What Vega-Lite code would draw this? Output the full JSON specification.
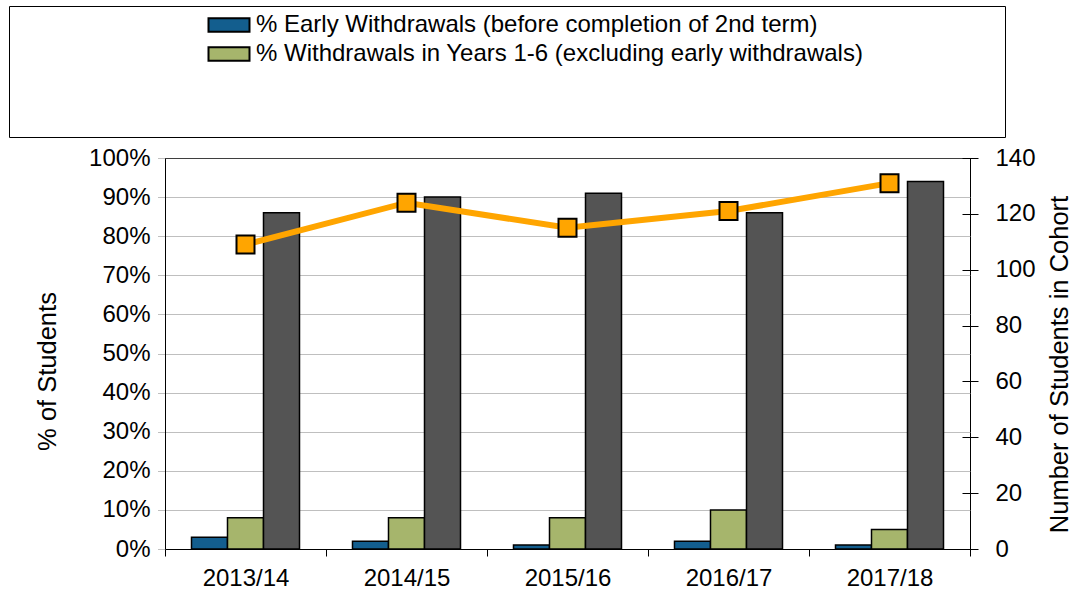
{
  "$schema": "https://vega.github.io/schema/vega-lite/v6.json",
  "padding": {"left": 8, "top": 5, "right": 0, "bottom": 0},
  "autosize": {"type": "pad"},
  "spacing": 7,
  "config": {
    "font": "Liberation Sans",
    "view": {"stroke": "black", "strokeWidth": 1},
    "axis": {"labelFontSize": 24, "titleFontSize": 25.5, "titleFontWeight": "normal", "labelColor": "black", "titleColor": "black"}
  },
  "datasets": {
    "bars": [
      {"year": "2013/14", "series": "% Early Withdrawals (before completion of 2nd term)", "value": 0.03},
      {"year": "2013/14", "series": "% Withdrawals in Years 1-6 (excluding early withdrawals)", "value": 0.08},
      {"year": "2013/14", "series": "% Graduated", "value": 0.86},
      {"year": "2014/15", "series": "% Early Withdrawals (before completion of 2nd term)", "value": 0.02},
      {"year": "2014/15", "series": "% Withdrawals in Years 1-6 (excluding early withdrawals)", "value": 0.08},
      {"year": "2014/15", "series": "% Graduated", "value": 0.90},
      {"year": "2015/16", "series": "% Early Withdrawals (before completion of 2nd term)", "value": 0.01},
      {"year": "2015/16", "series": "% Withdrawals in Years 1-6 (excluding early withdrawals)", "value": 0.08},
      {"year": "2015/16", "series": "% Graduated", "value": 0.91},
      {"year": "2016/17", "series": "% Early Withdrawals (before completion of 2nd term)", "value": 0.02},
      {"year": "2016/17", "series": "% Withdrawals in Years 1-6 (excluding early withdrawals)", "value": 0.10},
      {"year": "2016/17", "series": "% Graduated", "value": 0.86},
      {"year": "2017/18", "series": "% Early Withdrawals (before completion of 2nd term)", "value": 0.01},
      {"year": "2017/18", "series": "% Withdrawals in Years 1-6 (excluding early withdrawals)", "value": 0.05},
      {"year": "2017/18", "series": "% Graduated", "value": 0.94}
    ],
    "cohort": [
      {"year": "2013/14", "students": 109},
      {"year": "2014/15", "students": 124},
      {"year": "2015/16", "students": 115},
      {"year": "2016/17", "students": 121},
      {"year": "2017/18", "students": 131}
    ]
  },
  "vconcat": [
    {
      "width": 996,
      "height": 131,
      "data": {"name": "cohort"},
      "mark": {"type": "rect", "fill": "transparent"},
      "encoding": {"x": {"field": "year", "type": "nominal", "axis": null}}
    },
    {
      "spacing": 8,
      "hconcat": [
        {
          "width": 18,
          "height": 391,
          "view": {"stroke": null},
          "data": {"name": "cohort"},
          "mark": {"type": "rect", "fill": "transparent"},
          "encoding": {}
        },
        {
          "width": 805,
          "height": 391,
          "resolve": {"scale": {"y": "independent"}},
          "layer": [
            {
              "data": {"name": "bars"},
              "mark": {"type": "bar", "stroke": "black", "strokeWidth": 1.5},
              "encoding": {
                "x": {
                  "field": "year", "type": "nominal",
                  "scale": {"paddingInner": 0, "paddingOuter": 0},
                  "axis": {"title": null, "labelAngle": 0, "tickBand": "extent", "tickSize": 7, "tickColor": "black", "domainColor": "black", "labelPadding": 10}
                },
                "xOffset": {
                  "field": "series", "type": "nominal",
                  "scale": {"domain": ["% Early Withdrawals (before completion of 2nd term)", "% Withdrawals in Years 1-6 (excluding early withdrawals)", "% Graduated"], "paddingInner": 0, "paddingOuter": 0.736}
                },
                "y": {
                  "field": "value", "type": "quantitative",
                  "scale": {"domain": [0, 1], "nice": false},
                  "axis": {
                    "orient": "left", "format": ".0%", "values": [0, 0.1, 0.2, 0.3, 0.4, 0.5, 0.6, 0.7, 0.8, 0.9, 1],
                    "grid": true, "gridColor": "#7f7f7f", "gridDash": [1, 1],
                    "tickColor": "#7f7f7f", "tickDash": [1, 1], "tickSize": 8,
                    "domainColor": "black", "labelPadding": 7,
                    "title": "% of Students", "titlePadding": 28, "titleY": 213
                  }
                },
                "color": {
                  "field": "series", "type": "nominal",
                  "scale": {"domain": ["% Early Withdrawals (before completion of 2nd term)", "% Withdrawals in Years 1-6 (excluding early withdrawals)", "% Graduated"], "range": ["#135E8E", "#A6B56C", "#545454"]},
                  "legend": {
                    "values": ["% Early Withdrawals (before completion of 2nd term)", "% Withdrawals in Years 1-6 (excluding early withdrawals)"],
                    "orient": "none", "legendX": 208, "legendY": 7,
                    "title": null, "padding": 0, "rowPadding": 5, "labelOffset": 15,
                    "symbolType": "M-2.05,-0.68H2.05V0.68H-2.05Z", "symbolSize": 400,
                    "symbolStrokeColor": "black", "symbolStrokeWidth": 2, "symbolOpacity": 1,
                    "labelFontSize": 24, "labelColor": "black", "labelLimit": 800
                  }
                }
              }
            },
            {
              "data": {"name": "cohort"},
              "mark": {"type": "line", "color": "#FFA500", "strokeWidth": 6,
                "point": {"shape": "square", "size": 324, "filled": true, "fill": "#FFA500", "stroke": "black", "strokeWidth": 2, "opacity": 1}},
              "encoding": {
                "x": {"field": "year", "type": "nominal"},
                "y": {
                  "field": "students", "type": "quantitative",
                  "scale": {"domain": [0, 140], "nice": false},
                  "axis": {
                    "orient": "right", "values": [0, 20, 40, 60, 80, 100, 120, 140],
                    "grid": false, "domain": false, "offset": -8, "tickSize": 16, "tickColor": "black",
                    "labelPadding": 17, "title": "Number of Students in Cohort", "titleAngle": 270, "titleBaseline": "top",
                    "titlePadding": 12, "titleY": 206
                  }
                }
              }
            }
          ]
        }
      ]
    }
  ]
}
